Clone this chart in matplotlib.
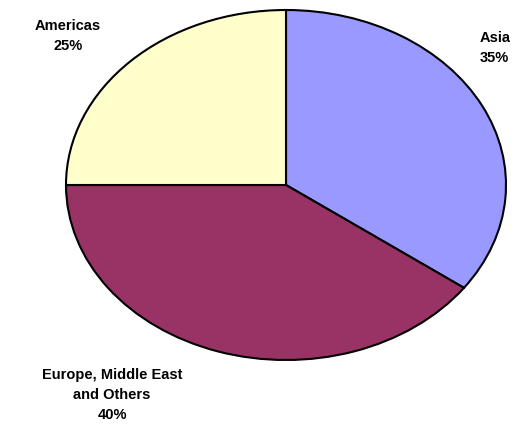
import matplotlib.pyplot as plt

plt.rcParams['font.family'] = ['Liberation Sans', 'DejaVu Sans']

regions = ['Asia', 'Europe, Middle East\nand Others', 'Americas']
shares = [35, 40, 25]
colors = ['#9999FF', '#993366', '#FFFFCC']

W, H = 522, 424
fig = plt.figure(figsize=(W / 100, H / 100), dpi=100)

# elliptical pie: axes box stretched wider than tall
cx, cy, rx, ry = 286, 185, 220, 175
ax = fig.add_axes([(cx - rx) / W, (H - cy - ry) / H, 2 * rx / W, 2 * ry / H])
ax.pie(shares, colors=colors, startangle=90, counterclock=False,
       wedgeprops=dict(edgecolor='black', linewidth=1.5))
ax.set_aspect('auto')
ax.set_xlim(-1, 1)
ax.set_ylim(-1, 1)

# labels placed outside, as in the original
lab_pos = [(480, 48, 'left'), (112, 395, 'center'), (68, 36, 'center')]
for name, val, (x, y, ha) in zip(regions, shares, lab_pos):
    fig.text(x / W, 1 - y / H, '{}\n{}%'.format(name, val), ha=ha, va='center',
             fontsize=10.5, fontweight='bold', linespacing=1.55)

fig.savefig('out.png', dpi=100)
